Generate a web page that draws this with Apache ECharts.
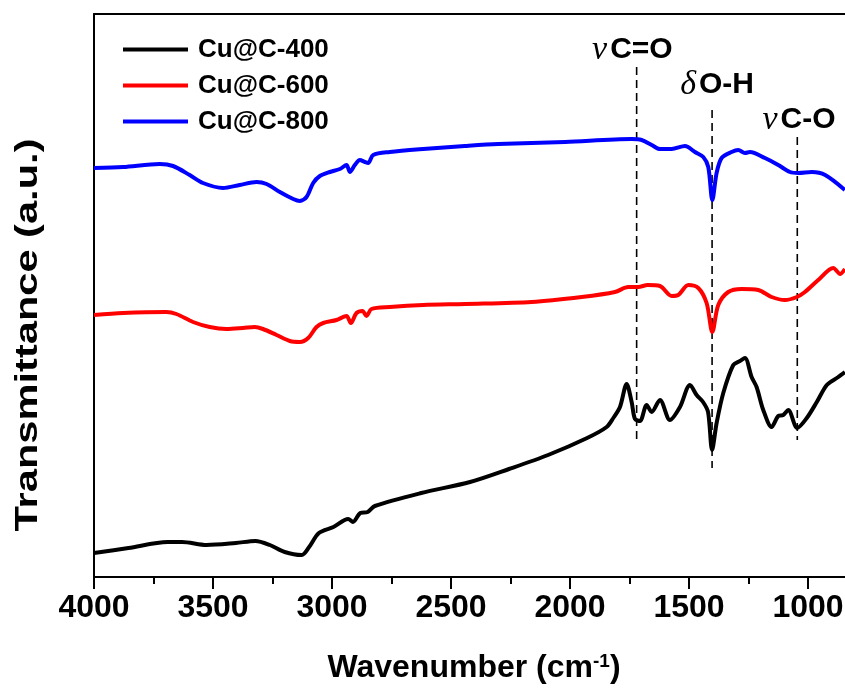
<!DOCTYPE html>
<html>
<head>
<meta charset="utf-8">
<script src="https://cdn.jsdelivr.net/npm/echarts@6.0.0/dist/echarts.min.js"></script>
<style>
  html, body { margin: 0; padding: 0; background: #fff; }
  #chart { width: 845px; height: 690px; }
</style>
</head>
<body>
<div id="chart"></div>
<script>
// FTIR spectra of Cu@C samples, transmittance in arbitrary units (offset traces)
const seriesNames = ['Cu@C-400', 'Cu@C-600', 'Cu@C-800'];
const seriesColors = ['#000000', '#ff0000', '#0000ff'];

const wn400 = [4000, 3855, 3691, 3630, 3527, 3404, 3322, 3261, 3199, 3127, 3096, 3055, 2994, 2932, 2912, 2881, 2850, 2820, 2625, 2420, 2256, 2092, 1928, 1846, 1818, 1790, 1762, 1741, 1727, 1706, 1678, 1657, 1622, 1580, 1538, 1496, 1468, 1441, 1420, 1403, 1384, 1356, 1314, 1286, 1265, 1237, 1216, 1188, 1153, 1125, 1104, 1083, 1045, 1005, 963, 921, 879, 845];
const t400 = [24, 29, 35, 35, 32, 34, 36, 32, 25, 22, 30, 44, 50, 58, 55, 64, 65, 71, 84, 95, 108, 122, 139, 150, 159, 170, 193, 175, 158, 156, 172, 165, 177, 157, 170, 192, 182, 175, 165, 127, 154, 184, 212, 216, 219, 200, 190, 167, 150, 161, 162, 167, 149, 159, 175, 192, 199, 205];

const wn600 = [4000, 3878, 3696, 3654, 3584, 3514, 3443, 3374, 3325, 3290, 3233, 3177, 3135, 3100, 3065, 3037, 2981, 2939, 2921, 2897, 2872, 2855, 2834, 2757, 2617, 2442, 2161, 1951, 1811, 1755, 1713, 1674, 1622, 1573, 1545, 1503, 1461, 1426, 1402, 1377, 1335, 1279, 1209, 1153, 1097, 1047, 1013, 957, 894, 865, 845];
const t600 = [262, 264, 265, 263, 255, 250, 248, 249, 250, 248, 242, 236, 235, 239, 250, 254, 257, 261, 254, 264, 266, 261, 268, 270, 272, 273, 275, 280, 285, 290, 290, 292, 291, 281, 282, 292, 289, 274, 245, 272, 285, 288, 287, 280, 277, 280, 285, 297, 309, 303, 308];

const wn800 = [4000, 3878, 3724, 3668, 3598, 3542, 3458, 3388, 3317, 3275, 3219, 3163, 3135, 3107, 3079, 3051, 3009, 2967, 2939, 2925, 2904, 2883, 2862, 2848, 2827, 2757, 2617, 2442, 2302, 2021, 1741, 1699, 1657, 1622, 1573, 1517, 1475, 1440, 1419, 1402, 1384, 1363, 1321, 1293, 1265, 1244, 1181, 1125, 1076, 1041, 984, 928, 845];
const t800 = [409, 410, 413, 411, 402, 394, 389, 392, 395, 393, 385, 378, 376, 380, 394, 401, 405, 408, 412, 405, 412, 417, 415, 414, 422, 425, 428, 431, 433, 435, 438, 437, 432, 428, 428, 431, 425, 420, 410, 377, 404, 419, 425, 427, 424, 425, 419, 412, 405, 404, 405, 402, 387];

// band assignments: guide line position / extent and label anchor
const bandWn = [1720, 1403, 1045];
const bandTop = [510, 467, 440];
const bandBottom = [137, 109, 137];
const bandGreek = ['ν', 'δ', 'ν'];
const bandGroup = ['C=O', 'O-H', 'C-O'];
const bandLabelWn = [1738, 1382, 1038];
const bandLabelT = [527, 492, 457];

// x ticks (the axis runs on past the right edge of the canvas)
const xMin = 500, xMax = 4000, xStep = 500;

const sans = 'Liberation Sans, Arial, sans-serif';
const chart = echarts.init(document.getElementById('chart'), null, { renderer: 'canvas' });

const spectra = [[wn400, t400], [wn600, t600], [wn800, t800]];
const series = spectra.map(([wn, t], i) => ({
  name: seriesNames[i],
  type: 'line',
  data: wn.map((w, k) => [w, t[k]]),
  symbol: 'none',
  smooth: 0.3,
  lineStyle: { color: seriesColors[i], width: 4, join: 'round' },
  itemStyle: { color: seriesColors[i] },
  z: 3
}));

bandWn.forEach((w, i) => {
  series.push({
    name: 'guide' + i,
    type: 'line',
    data: [[w, bandTop[i]], [w, bandBottom[i]]],
    symbol: 'none',
    lineStyle: { color: '#000', width: 1.6, type: [8, 5] },
    silent: true,
    z: 2
  });
});

series.push({
  name: 'bands',
  type: 'scatter',
  data: bandLabelWn.map((w, i) => [w, bandLabelT[i]]),
  symbolSize: 0,
  itemStyle: { color: '#000', opacity: 1 },
  silent: true,
  label: {
    show: true,
    position: 'inside',
    color: '#000',
    opacity: 1,
    textBorderWidth: 0,
    formatter: p => '{g|' + bandGreek[p.dataIndex] + '}{t|' + bandGroup[p.dataIndex] + '}',
    rich: {
      g: { fontFamily: 'Liberation Serif, serif', fontStyle: 'italic', fontSize: 34, color: '#000', padding: [0, 3, 0, 0], textBorderWidth: 0 },
      t: { fontFamily: sans, fontWeight: 'bold', fontSize: 30, color: '#000', textBorderWidth: 0 }
    }
  },
  z: 4
});

const axisLineStyle = { color: '#000', width: 2 };

chart.setOption({
  animation: false,
  backgroundColor: '#fff',
  grid: { left: 94, right: -82, top: 14, bottom: 113, containLabel: false, outerBoundsMode: 'none' },
  legend: {
    data: seriesNames,
    orient: 'vertical',
    left: 123,
    top: 35,
    padding: 0,
    icon: 'rect',
    itemWidth: 65,
    itemHeight: 4,
    itemGap: 7,
    selectedMode: false,
    textStyle: { fontFamily: sans, fontWeight: 'bold', fontSize: 26, lineHeight: 29, color: '#000', padding: [0, 0, 0, 5] }
  },
  xAxis: [{
    type: 'value',
    inverse: true,
    min: xMin,
    max: xMax,
    interval: xStep,
    position: 'bottom',
    axisLine: { show: true, lineStyle: axisLineStyle },
    axisTick: { show: true, length: 12, lineStyle: axisLineStyle },
    minorTick: { show: true, splitNumber: 2, length: 7, lineStyle: axisLineStyle },
    splitLine: { show: false },
    axisLabel: { fontFamily: sans, fontWeight: 'bold', fontSize: 32, color: '#000', margin: 15, formatter: v => String(v) }
  }, {
    type: 'value',
    inverse: true,
    min: xMin,
    max: xMax,
    position: 'top',
    axisLine: { show: true, lineStyle: axisLineStyle },
    axisTick: { show: false },
    axisLabel: { show: false },
    splitLine: { show: false }
  }],
  yAxis: {
    type: 'value',
    min: 0,
    max: 563,
    axisLine: { show: true, lineStyle: axisLineStyle },
    axisTick: { show: false },
    axisLabel: { show: false },
    splitLine: { show: false }
  },
  graphic: [{
    type: 'text',
    x: 474,
    y: 668,
    style: {
      text: 'Wavenumber (cm{s|-1})',
      align: 'center',
      verticalAlign: 'middle',
      fontFamily: sans,
      fontWeight: 'bold',
      fontSize: 32,
      fill: '#000',
      rich: {
        s: { fontFamily: sans, fontWeight: 'bold', fontSize: 19, verticalAlign: 'top', fill: '#000' }
      }
    }
  }, {
    type: 'text',
    x: 28,
    y: 335,
    rotation: Math.PI / 2,
    scaleX: 1.3,
    style: {
      text: 'Transmittance (a.u.)',
      align: 'center',
      verticalAlign: 'middle',
      fontFamily: sans,
      fontWeight: 'bold',
      fontSize: 32,
      fill: '#000'
    }
  }],
  series: series
});
</script>
</body>
</html>
